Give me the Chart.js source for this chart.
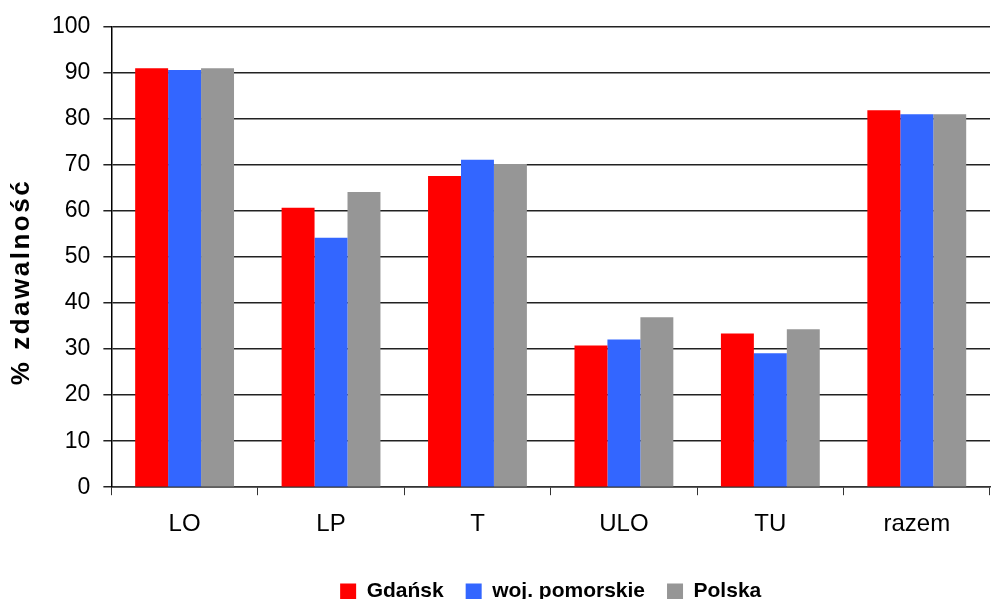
<!DOCTYPE html>
<html>
<head>
<meta charset="utf-8">
<script src="https://cdn.jsdelivr.net/npm/chart.js@4"></script>
<style>
  html, body { margin: 0; padding: 0; background: #fff; }
  #wrap { width: 992px; height: 599px; }
</style>
</head>
<body>
<div id="wrap"><canvas id="myChart" width="992" height="599"></canvas></div>
<script>
// dane z wykresu
const kategorie = ['LO', 'LP', 'T', 'ULO', 'TU', 'razem']
const gdansk = [91.0, 60.7, 67.6, 30.8, 33.4, 81.9]
const pomorskie = [90.6, 54.2, 71.1, 32.1, 29.1, 81.0]
const polska = [91.0, 64.1, 70.2, 36.9, 34.3, 81.0]
const yTicks = [0, 10, 20, 30, 40, 50, 60, 70, 80, 90, 100]
const tytulY = '% zdawalność'

const font = "'Liberation Sans', Arial, sans-serif"

// tytuł osi Y rysowany ręcznie (przesunięty w dół jak w oryginale)
const tytulOsiY = {
    id: 'tytulOsiY',
    afterDraw(chart) {
        const c = chart.ctx
        c.save()
        c.translate(22, 282)
        c.rotate(-Math.PI / 2)
        c.font = "bold 26px " + font
        c.fillStyle = '#000'
        c.textAlign = 'center'
        c.textBaseline = 'middle'
        if ('letterSpacing' in c) c.letterSpacing = '2.5px'
        c.fillText(tytulY, 0, 0)
        c.restore()
    }
}

const ctx = document.getElementById('myChart')
new Chart(ctx, {
    type: 'bar',
    data: {
        labels: kategorie,
        datasets: [{
            label: 'Gdańsk',
            data: gdansk,
            backgroundColor: 'rgb(255, 0, 0)'
        }, {
            label: 'woj. pomorskie',
            data: pomorskie,
            backgroundColor: 'rgb(51, 102, 255)'
        }, {
            label: 'Polska',
            data: polska,
            backgroundColor: 'rgb(150, 150, 150)'
        }]
    },
    plugins: [tytulOsiY],
    options: {
        responsive: false,
        animation: false,
        maintainAspectRatio: false,
        layout: { padding: { top: 24, right: 2, left: 39, bottom: -13 } },
        datasets: {
            bar: { categoryPercentage: 0.675, barPercentage: 1.0 }
        },
        plugins: {
            tooltip: { enabled: false },
            legend: {
                position: 'bottom',
                fullSize: false,
                labels: {
                    font: { family: font, size: 21, weight: 'bold' },
                    color: '#000',
                    boxWidth: 16,
                    boxHeight: 16,
                    padding: 22
                }
            }
        },
        scales: {
            x: {
                grid: {
                    drawOnChartArea: false,
                    drawTicks: true,
                    tickLength: 8,
                    color: '#333',
                    offset: true
                },
                border: { color: '#333', width: 1.5 },
                ticks: {
                    font: { family: font, size: 24 },
                    color: '#000',
                    padding: 15
                },
                afterFit: function (scale) {
                    scale.height += 5
                }
            },
            y: {
                min: 0,
                max: 100,
                afterBuildTicks: function (axis) {
                    axis.ticks = yTicks.map(v => ({ value: v }))
                },
                grid: {
                    color: '#222',
                    lineWidth: 1.5,
                    tickLength: 8
                },
                border: { color: '#000', width: 1.5 },
                ticks: {
                    font: { family: font, size: 23 },
                    color: '#000',
                    padding: 13
                }
            }
        }
    }
});
</script>
</body>
</html>
